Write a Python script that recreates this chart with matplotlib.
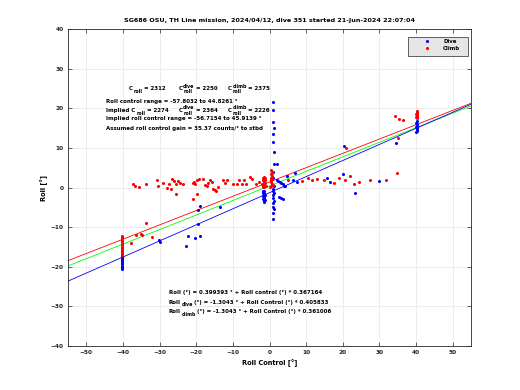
import matplotlib
matplotlib.use("Agg")
import matplotlib.pyplot as plt
from matplotlib.patches import Rectangle
import numpy as np

# ---------------- data ----------------
dive_x = [
    -40.3, -40.2, -40.4, -40.3, -40.2, -40.3, -40.4, -40.2, -40.3, -40.3, -40.2, -40.4, -40.3, -40.2, -40.3, -40.3, -40.2, -40.3,
    -30.2, -30.0, -22.3, -20.4, -19.0, -19.6, -19.6, -19.0, -13.6, -22.8,
    -1.8, -1.6, -1.4, -1.7, -1.5, -1.3, -1.9, -1.6, -1.4, -1.5, -1.7, -1.2, -1.6, -1.5, -1.8, -1.4,
    0.9, 1.0, 1.1, 0.9, 1.0, 1.2, 1.0, 0.9, 1.1, 1.0, 1.0, 1.1, 0.9, 1.0, 1.2, 1.1, 1.0, 1.0, 1.1, 1.0, 0.9, 1.0,
    2.0, 2.4, 2.8, 3.2, 3.6, 4.0, 4.3, 2.5, 3.2, 3.7, 2.1, 4.8, 6.4, 7.5, 6.9,
    15.7, 16.5, 20.0, 23.3, 20.3, 29.9, 34.5,
    40.1, 40.2, 40.3, 40.2, 40.1, 40.2, 40.3, 40.2, 40.1, 40.2, 40.3, 40.2,
]
dive_y = [
    -20.6, -20.3, -20.0, -19.7, -19.4, -19.1, -18.9, -18.6, -18.3, -18.0, -17.8, -17.5, -17.2, -16.9, -16.6, -16.3, -16.0, -15.6,
    -13.3, -13.8, -12.2, -12.7, -12.2, -9.1, -5.6, -4.6, -4.8, -14.7,
    -0.8, -1.0, -1.3, -1.5, -1.7, -2.0, -2.2, -2.4, -2.6, -2.8, -3.0, -3.2, -3.4, -3.6, -1.2, -2.5,
    -8.0, -6.5, -5.5, -4.8, -4.0, -3.3, -2.6, -2.0, -1.4, -0.8, -0.3, 0.5, 2.5, 4.0, 6.0, 9.0, 11.5, 13.5, 15.0, 16.5, 19.5, 21.5,
    2.0, 1.7, 1.4, 1.1, 0.8, 0.5, 0.3, -2.3, -2.6, -2.8, 5.9, 2.8, 2.0, 1.5, 3.6,
    2.3, 1.5, 3.3, -1.5, 10.4, 1.6, 11.2,
    14.0, 14.3, 14.6, 14.9, 15.2, 15.5, 15.8, 16.1, 16.4, 16.7, 15.0, 14.5,
]

climb_x = [
    -40.3, -40.2, -40.3, -40.4, -40.3, -40.2, -40.3, -40.3, -40.4, -40.2, -40.3, -40.3, -40.2, -40.3, -40.4, -40.3,
    -33.6, -36.5, -35.0, -34.7, -37.9, -32.2,
    -37.3, -36.8, -35.6, -33.8, -30.7, -30.4, -29.1, -28.0, -27.5, -26.5, -26.1, -25.4, -25.0, -24.5, -23.6,
    -25.6, -27.0, -20.9, -20.6, -19.9, -20.4, -19.9, -19.2, -18.1, -17.7, -17.2, -16.8, -16.3, -15.8, -15.4,
    -14.9, -14.5, -14.0, -12.7, -12.2, -11.7, -10.1, -9.0, -8.4, -7.5, -6.9, -6.3, -5.4, -4.8, -3.6, -2.8, -20.9,
    -1.9, -1.7, -1.5, -1.3, -1.6, -1.4, -1.8, -1.2, -1.5, -1.0, -2.0, -1.6, -1.3, -1.7,
    0.2, 0.4, 0.6, 0.3, 0.5, 0.7, 0.4, 0.6, 0.5, 0.8, 0.6, 0.5, 0.9, 0.3,
    5.0, 9.0, 10.5, 11.5, 13.0, 15.0, 17.5, 19.0, 20.7, 21.0, 22.0, 23.0, 24.5, 27.4, 31.8, 34.7, 35.1, 34.2, 35.4, 36.5,
    40.2, 40.1, 40.2, 40.3, 40.2, 40.1, 40.2, 40.3, 40.2, 40.2,
]
climb_y = [
    -17.0, -16.7, -16.4, -16.1, -15.8, -15.5, -15.2, -14.9, -14.6, -14.3, -14.0, -13.6, -13.2, -12.8, -12.5, -12.2,
    -8.9, -11.9, -11.8, -11.9, -13.9, -12.4,
    0.8, 0.5, 0.1, 0.9, 2.0, 0.5, 1.1, -0.1, 0.9, 2.2, 1.6, 0.9, 1.6, 1.1, 0.8,
    -1.6, -0.3, 1.1, 1.4, -1.6, 0.9, 1.8, 2.2, 2.2, 0.7, 0.3, 1.1, 1.8, 1.3, -0.3,
    -0.6, -0.8, 0.1, 1.8, 1.1, 2.0, 0.9, 0.9, 1.8, 0.8, 2.0, 0.9, 2.6, 2.2, 0.8, 1.3, -2.9,
    0.2, 0.5, 0.8, 1.1, 1.4, 1.7, 2.0, 2.3, 2.6, 0.4, 1.0, 0.1, 1.9, 2.4,
    0.1, 0.5, 0.9, 1.3, 1.7, 2.1, 2.5, 2.9, 3.3, 3.7, 4.0, 4.3, 0.6, 2.0,
    2.0, 1.6, 2.5, 1.9, 2.2, 2.0, 1.2, 2.5, 1.8, 10.0, 2.8, 0.8, 1.5, 1.8, 2.0, 3.6, 12.4, 18.1, 17.2, 17.0,
    17.5, 17.7, 17.9, 18.1, 18.3, 18.5, 18.7, 18.9, 19.1, 19.3,
]

# fitted lines
fit_names = ["all", "dive", "climb"]
fit_intercepts = [0.399393, -1.3043, 1.4]
fit_slopes = [0.367164, 0.405833, 0.361006]
fit_colors = ["#00ff00", "#0000ff", "#ff0000"]

title = "SG686 OSU, TH Line mission, 2024/04/12, dive 351 started 21-Jun-2024 22:07:04"
xticks = [-50, -40, -30, -20, -10, 0, 10, 20, 30, 40, 50]
yticks = [-40, -30, -20, -10, 0, 10, 20, 30, 40]

# ---------------- plot ----------------
plt.rcParams["font.family"] = ["DejaVu Sans"]

fig = plt.figure(figsize=(5.2, 3.9), dpi=100)
ax = fig.add_axes([0.1308, 0.1128, 0.775, 0.8128])

axc = "#262626"
ax.set_xlim(-55, 55)
ax.set_ylim(-40, 40)
ax.set_xticks(xticks)
ax.set_yticks(yticks)
ax.grid(True, color="#e6e6e6", linewidth=0.5)
ax.set_axisbelow(True)
for s in ax.spines.values():
    s.set_color(axc)
    s.set_linewidth(0.6)
ax.tick_params(direction="in", length=3, width=0.5, colors=axc, labelsize=4.2,
               top=True, right=True, pad=3)
for lab in ax.get_xticklabels() + ax.get_yticklabels():
    lab.set_fontweight("bold")

xl = np.array(ax.get_xlim())
for b, m, c in zip(fit_intercepts, fit_slopes, fit_colors):
    ax.plot(xl, b + m * xl, color=c, linewidth=0.6, zorder=2)

ax.plot(dive_x, dive_y, ".", color="#0000ff", markersize=2.4, label="Dive", zorder=3)
ax.plot(climb_x, climb_y, ".", color="#ff0000", markersize=2.4, label="Climb", zorder=4)

# legend: gray box + frameless legend inside
ax.add_patch(Rectangle((0.8437, 0.915), 0.9926 - 0.8437, 0.975 - 0.915, transform=ax.transAxes,
                       facecolor="#e6e6e6", edgecolor=axc, linewidth=0.5, zorder=5))
leg = ax.legend(loc="upper left", bbox_to_anchor=(0.877, 0.968), borderaxespad=0, borderpad=0,
                prop={"size": 3.9, "weight": "bold"}, frameon=False,
                markerscale=1.0, handlelength=2.0, labelspacing=0.35, handletextpad=2.0)
leg.set_zorder(6)

ax.set_title(title, fontsize=4.6, fontweight="bold", color="black", pad=5)
ax.set_xlabel("Roll Control [°]", fontsize=4.8, fontweight="bold", labelpad=3)
ax.set_ylabel("Roll [°]", fontsize=4.8, fontweight="bold", labelpad=2)

fs = 4.0
small = 3.4


def plain(x, y, s):
    return ax.text(x, y, s, fontsize=fs, fontweight="bold", va="center", ha="left")


def sym(x, y, pre, base, sub=None, sup=None, post=""):
    """Compose text with a base symbol carrying sub- and/or superscripts."""
    t0 = ax.text(x, y, pre + base, fontsize=fs, fontweight="bold", va="center", ha="left")
    widest = t0
    if sup is not None:
        tsup = ax.annotate(sup, xy=(1, 0.5), xycoords=t0, xytext=(0.4, 0),
                           textcoords="offset points", fontsize=small, fontweight="bold",
                           va="bottom", ha="left")
        widest = tsup
    if sub is not None:
        tsub = ax.annotate(sub, xy=(1, 0.42), xycoords=t0, xytext=(0.4, 0),
                           textcoords="offset points", fontsize=small, fontweight="bold",
                           va="top", ha="left")
        if sup is None or len(sub) > len(sup):
            widest = tsub
    ax.annotate(post, xy=(1, 0.5), xycoords=(widest, t0), xytext=(1.2, 0),
                textcoords="offset points", fontsize=fs, fontweight="bold",
                va="center", ha="left")


sym(-38.4, 24.9, "", "C", sub="roll", post="= 2312")
sym(-24.8, 24.9, "", "C", sub="roll", sup="dive", post="= 2250")
sym(-11.4, 24.9, "", "C", sub="roll", sup="climb", post="= 2375")
plain(-44.5, 21.8, "Roll control range = -57.8032 to 44.8261 °")
sym(-44.5, 19.5, "Implied ", "C", sub="roll", post="= 2274")
sym(-24.8, 19.5, "", "C", sub="roll", sup="dive", post="= 2364")
sym(-11.4, 19.5, "", "C", sub="roll", sup="climb", post="= 2226")
plain(-44.5, 17.3, "Implied roll control range = -56.7154 to 45.9139 °")
plain(-44.5, 15.0, "Assumed roll control gain = 35.37 counts/° to stbd")

plain(-27.5, -26.6, "Roll (°) = 0.399393 ° + Roll control (°) * 0.367164")
sym(-27.5, -28.9, "", "Roll", sub="dive", post="(°) = -1.3043 ° + Roll Control (°) * 0.405833")
sym(-27.5, -31.4, "", "Roll", sub="climb", post="(°) = -1.3043 ° + Roll Control (°) * 0.361006")

fig.savefig("out.png", dpi=100)
